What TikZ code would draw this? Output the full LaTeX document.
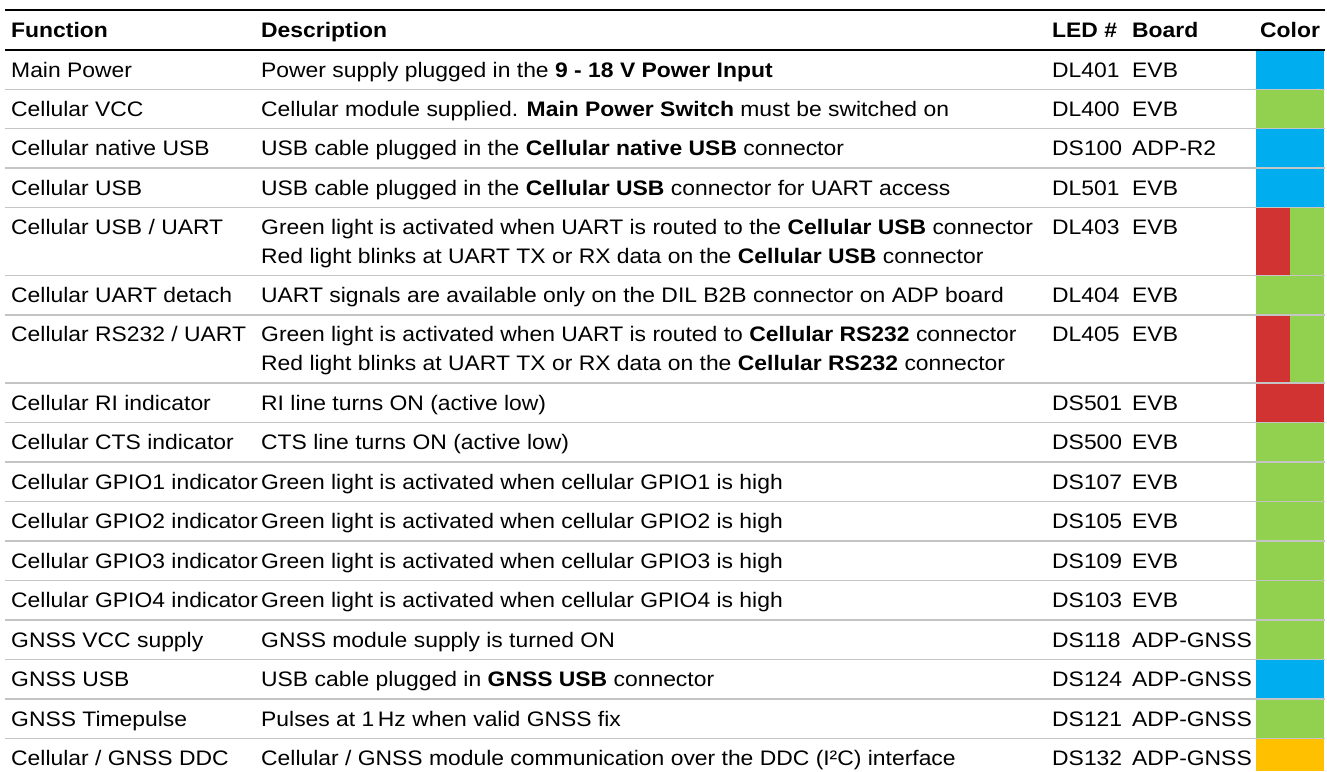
\documentclass[tikz,border=0pt]{standalone}
\usepackage{fontspec}
\setmainfont[FakeStretch=1.09]{Liberation Sans}
\usepackage{xcolor}
\definecolor{ledblue}{RGB}{0,174,239}
\definecolor{ledgreen}{RGB}{146,208,80}
\definecolor{ledred}{RGB}{209,50,50}
\definecolor{ledorange}{RGB}{255,192,0}
\definecolor{rulegrey}{RGB}{196,196,196}
\begin{document}
\begin{tikzpicture}[x=1pt,y=-1pt,
cell/.style={anchor=base west,inner sep=0pt,font=\fontsize{21}{29}\selectfont},
head/.style={cell,font=\fontsize{21}{29}\selectfont\bfseries},
toprule/.style={line width=2pt,black},
rowrule/.style={line width=1.6pt,rulegrey}]
\useasboundingbox (0,0) rectangle (1327,771);
% header
\node[head] (hfun) at (11,37) {Function};
\node[head] (hdesc) at (261,37) {Description};
\node[head] (hled) at (1052,37) {LED \#};
\node[head] (hbrd) at (1132,37) {Board};
\node[head] (hcol) at (1260,37) {Color};
% colour cells
\fill[ledblue] (1256,50) rectangle (1324,89.3);
\fill[ledgreen] (1256,89.3) rectangle (1324,128.6);
\fill[ledblue] (1256,128.6) rectangle (1324,168);
\fill[ledblue] (1256,168) rectangle (1324,207.3);
\fill[ledred] (1256,207.3) rectangle (1290,275.5);
\fill[ledgreen] (1290,207.3) rectangle (1324,275.5);
\fill[ledgreen] (1256,275.5) rectangle (1324,314.8);
\fill[ledred] (1256,314.8) rectangle (1290,383);
\fill[ledgreen] (1290,314.8) rectangle (1324,383);
\fill[ledred] (1256,383) rectangle (1324,422.5);
\fill[ledgreen] (1256,422.5) rectangle (1324,462);
\fill[ledgreen] (1256,462) rectangle (1324,501.5);
\fill[ledgreen] (1256,501.5) rectangle (1324,541);
\fill[ledgreen] (1256,541) rectangle (1324,580.5);
\fill[ledgreen] (1256,580.5) rectangle (1324,620);
\fill[ledgreen] (1256,620) rectangle (1324,659.5);
\fill[ledblue] (1256,659.5) rectangle (1324,699);
\fill[ledgreen] (1256,699) rectangle (1324,738.5);
\fill[ledorange] (1256,738.5) rectangle (1324,771);
% rules
\draw[toprule] (5,10) -- (1325,10);
\draw[toprule] (5,50) -- (1325,50);
\foreach \y in {89.3,128.6,168,207.3,275.5,314.8,383,422.5,462,501.5,541,580.5,620,659.5,699,738.5}
  \draw[rowrule] (5,\y) -- (1325,\y);
% row 1
\node[cell] (f1) at (11,77) {Main Power};
\node[cell] (d1) at (261,77) {Power supply plugged in the \textbf{9 - 18 V Power Input}};
\node[cell] (l1) at (1052,77) {DL401};
\node[cell] (b1) at (1132,77) {EVB};
% row 2
\node[cell] (f2) at (11,116.3) {Cellular VCC};
\node[cell] (d2) at (261,116.3) {Cellular module supplied. \textbf{Main Power Switch} must be switched on};
\node[cell] (l2) at (1052,116.3) {DL400};
\node[cell] (b2) at (1132,116.3) {EVB};
% row 3
\node[cell] (f3) at (11,155.6) {Cellular native USB};
\node[cell] (d3) at (261,155.6) {USB cable plugged in the \textbf{Cellular native USB} connector};
\node[cell] (l3) at (1052,155.6) {DS100};
\node[cell] (b3) at (1132,155.6) {ADP-R2};
% row 4
\node[cell] (f4) at (11,195) {Cellular USB};
\node[cell] (d4) at (261,195) {USB cable plugged in the \textbf{Cellular USB} connector for UART access};
\node[cell] (l4) at (1052,195) {DL501};
\node[cell] (b4) at (1132,195) {EVB};
% row 5
\node[cell] (f5) at (11,234.3) {Cellular USB / UART};
\node[cell] (d5) at (261,234.3) {Green light is activated when UART is routed to the \textbf{Cellular USB} connector};
\node[cell] (d5b) at (261,263.3) {Red light blinks at UART TX or RX data on the \textbf{Cellular USB} connector};
\node[cell] (l5) at (1052,234.3) {DL403};
\node[cell] (b5) at (1132,234.3) {EVB};
% row 6
\node[cell] (f6) at (11,302.5) {Cellular UART detach};
\node[cell] (d6) at (261,302.5) {UART signals are available only on the DIL B2B connector on ADP board};
\node[cell] (l6) at (1052,302.5) {DL404};
\node[cell] (b6) at (1132,302.5) {EVB};
% row 7
\node[cell] (f7) at (11,341.8) {Cellular RS232 / UART};
\node[cell] (d7) at (261,341.8) {Green light is activated when UART is routed to \textbf{Cellular RS232} connector};
\node[cell] (d7b) at (261,370.8) {Red light blinks at UART TX or RX data on the \textbf{Cellular RS232} connector};
\node[cell] (l7) at (1052,341.8) {DL405};
\node[cell] (b7) at (1132,341.8) {EVB};
% row 8
\node[cell] (f8) at (11,410) {Cellular RI indicator};
\node[cell] (d8) at (261,410) {RI line turns ON (active low)};
\node[cell] (l8) at (1052,410) {DS501};
\node[cell] (b8) at (1132,410) {EVB};
% row 9
\node[cell] (f9) at (11,449.5) {Cellular CTS indicator};
\node[cell] (d9) at (261,449.5) {CTS line turns ON (active low)};
\node[cell] (l9) at (1052,449.5) {DS500};
\node[cell] (b9) at (1132,449.5) {EVB};
% row 10
\node[cell] (f10) at (11,489) {Cellular GPIO1 indicator};
\node[cell] (d10) at (261,489) {Green light is activated when cellular GPIO1 is high};
\node[cell] (l10) at (1052,489) {DS107};
\node[cell] (b10) at (1132,489) {EVB};
% row 11
\node[cell] (f11) at (11,528.5) {Cellular GPIO2 indicator};
\node[cell] (d11) at (261,528.5) {Green light is activated when cellular GPIO2 is high};
\node[cell] (l11) at (1052,528.5) {DS105};
\node[cell] (b11) at (1132,528.5) {EVB};
% row 12
\node[cell] (f12) at (11,568) {Cellular GPIO3 indicator};
\node[cell] (d12) at (261,568) {Green light is activated when cellular GPIO3 is high};
\node[cell] (l12) at (1052,568) {DS109};
\node[cell] (b12) at (1132,568) {EVB};
% row 13
\node[cell] (f13) at (11,607.5) {Cellular GPIO4 indicator};
\node[cell] (d13) at (261,607.5) {Green light is activated when cellular GPIO4 is high};
\node[cell] (l13) at (1052,607.5) {DS103};
\node[cell] (b13) at (1132,607.5) {EVB};
% row 14
\node[cell] (f14) at (11,647) {GNSS VCC supply};
\node[cell] (d14) at (261,647) {GNSS module supply is turned ON};
\node[cell] (l14) at (1052,647) {DS118};
\node[cell] (b14) at (1132,647) {ADP-GNSS};
% row 15
\node[cell] (f15) at (11,686.5) {GNSS USB};
\node[cell] (d15) at (261,686.5) {USB cable plugged in \textbf{GNSS USB} connector};
\node[cell] (l15) at (1052,686.5) {DS124};
\node[cell] (b15) at (1132,686.5) {ADP-GNSS};
% row 16
\node[cell] (f16) at (11,726) {GNSS Timepulse};
\node[cell] (d16) at (261,726) {Pulses at 1\,Hz when valid GNSS fix};
\node[cell] (l16) at (1052,726) {DS121};
\node[cell] (b16) at (1132,726) {ADP-GNSS};
% row 17
\node[cell] (f17) at (11,765.5) {Cellular / GNSS DDC};
\node[cell] (d17) at (261,765.5) {Cellular / GNSS module communication over the DDC (I²C) interface};
\node[cell] (l17) at (1052,765.5) {DS132};
\node[cell] (b17) at (1132,765.5) {ADP-GNSS};
\end{tikzpicture}
\end{document}
